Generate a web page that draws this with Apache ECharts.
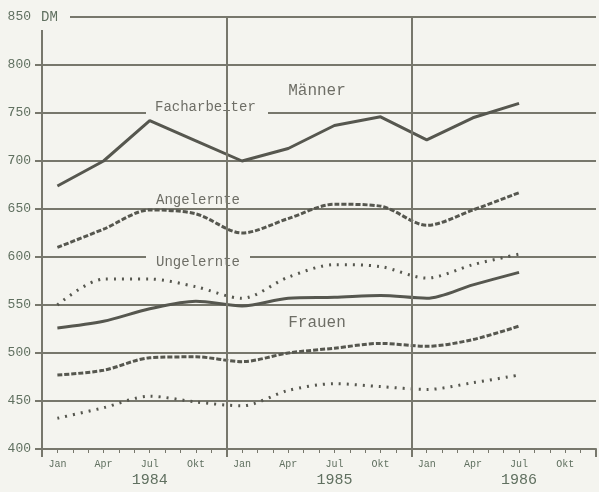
<!DOCTYPE html>
<html>
<head>
<meta charset="utf-8">
<script src="https://cdn.jsdelivr.net/npm/echarts@6/dist/echarts.min.js"></script>
<style>
    html, body {margin: 0; padding: 0; background: #f4f4ef;}
    #chart {width: 599px; height: 492px;}
</style>
</head>
<body>
<div id="chart"></div>
<script>
// months counted from Dec 1983 (Jan 1984 = 1), one point per quarter
var months = [1, 4, 7, 10, 13, 16, 19, 22, 25, 28, 31];
var monthNames = {1: 'Jan', 4: 'Apr', 7: 'Jul', 10: 'Okt'};
var yearLabels = {7: '1984', 19: '1985', 31: '1986'};

// Männer
var facharbeiter = [674, 700, 742, 721, 700, 713, 737, 746, 722, 745, 760];
var angelernte   = [610, 629, 649, 645, 625, 640, 655, 653, 633, 649, 667];
var ungelernte   = [550, 577, 577, 569, 557, 579, 592, 590, 578, 592, 603];

// Frauen
var frauenFach   = [526, 533, 546, 554, 549, 557, 558, 560, 557, 571, 584];
var frauenAngel  = [477, 482, 495, 496, 491, 500, 505, 510, 507, 514, 528];
var frauenUngel  = [432, 443, 455, 449, 445, 461, 468, 465, 462, 469, 477];

var bg = '#f4f4ef';
var ink = '#56574f';
var gridColor = '#77776c';
var labelColor = '#607060';
var mono = 'Liberation Mono';

function pairs(values) {
    var out = [];
    for (var i = 0; i < values.length; i++) {
        out.push([months[i], values[i]]);
    }
    return out;
}

function line(name, values, type, smooth) {
    return {
        name: name,
        type: 'line',
        xAxisIndex: 0,
        data: pairs(values),
        symbol: 'none',
        smooth: smooth,
        z: 2,
        lineStyle: {color: ink, width: 3, type: type}
    };
}

var chart = echarts.init(document.getElementById('chart'));

chart.setOption({
    backgroundColor: bg,
    animation: false,
    grid: {left: 42, top: 17, width: 561, height: 432},
    xAxis: [
        {
            type: 'value',
            min: 0,
            max: 36,
            interval: 1,
            axisLine: {lineStyle: {color: gridColor, width: 2}},
            axisTick: {length: 4, lineStyle: {color: gridColor, width: 1}},
            splitLine: {show: false},
            axisLabel: {
                margin: 8,
                formatter: function (v) {
                    var m = monthNames[((v - 1) % 12) + 1];
                    if (v < 1 || !m) return '';
                    var s = '{m|' + m + '}';
                    if (yearLabels[v]) s += '\n{y|' + yearLabels[v] + '}';
                    return s;
                },
                rich: {
                    m: {fontFamily: mono, fontSize: 10, color: labelColor, lineHeight: 14},
                    y: {fontFamily: mono, fontSize: 15, color: labelColor, lineHeight: 18}
                }
            }
        },
        {
            // year boundaries
            type: 'value',
            position: 'bottom',
            min: 0,
            max: 36,
            interval: 12,
            z: 3,
            axisLine: {show: false},
            axisLabel: {show: false},
            axisTick: {length: 8, lineStyle: {color: gridColor, width: 2}},
            splitLine: {show: true, showMinLine: false, showMaxLine: false, lineStyle: {color: gridColor, width: 2}}
        }
    ],
    yAxis: {
        type: 'value',
        min: 400,
        max: 850,
        interval: 50,
        axisLine: {show: true, lineStyle: {color: gridColor, width: 2}},
        axisTick: {show: true, length: 7, lineStyle: {color: gridColor, width: 2}},
        splitLine: {show: true, lineStyle: {color: gridColor, width: 2}},
        axisLabel: {margin: 11, fontFamily: mono, fontSize: 13, color: labelColor}
    },
    graphic: [
        // gaps in gridlines where the labels sit
        {type: 'rect', z: 1, shape: {x: 34, y: 8, width: 36, height: 22}, style: {fill: bg}},
        {type: 'rect', z: 1, shape: {x: 146, y: 110, width: 122, height: 6}, style: {fill: bg}},
        {type: 'rect', z: 1, shape: {x: 146, y: 254, width: 104, height: 6}, style: {fill: bg}},
        {type: 'text', z: 1, x: 41, y: 17, style: {text: 'DM', font: '14px ' + mono, fill: labelColor, verticalAlign: 'middle'}},
        {type: 'text', z: 1, x: 317, y: 91, style: {text: 'Männer', font: '16px ' + mono, fill: '#6e6e66', align: 'center', verticalAlign: 'middle'}},
        {type: 'text', z: 1, x: 317, y: 323, style: {text: 'Frauen', font: '16px ' + mono, fill: '#6e6e66', align: 'center', verticalAlign: 'middle'}},
        {type: 'text', z: 1, x: 155, y: 107, style: {text: 'Facharbeiter', font: '14px ' + mono, fill: '#6e6e66', verticalAlign: 'middle'}},
        {type: 'text', z: 1, x: 156, y: 200, style: {text: 'Angelernte', font: '14px ' + mono, fill: '#6e6e66', verticalAlign: 'middle'}},
        {type: 'text', z: 1, x: 156, y: 262, style: {text: 'Ungelernte', font: '14px ' + mono, fill: '#6e6e66', verticalAlign: 'middle'}}
    ],
    series: [
        line('Facharbeiter', facharbeiter, 'solid', false),
        line('Angelernte', angelernte, [5, 2], 0.3),
        line('Ungelernte', ungelernte, [2, 6], 0.3),
        line('Facharbeiterinnen', frauenFach, 'solid', 0.3),
        line('Angelernte Frauen', frauenAngel, [5, 2], 0.3),
        line('Ungelernte Frauen', frauenUngel, [2, 6], 0.3)
    ]
});
</script>
</body>
</html>
